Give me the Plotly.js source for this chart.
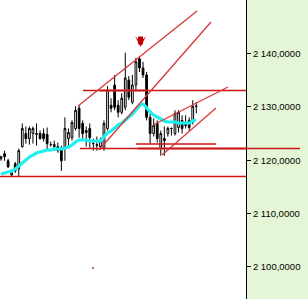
<!DOCTYPE html>
<html>
<head>
<meta charset="utf-8">
<script src="https://cdn.plot.ly/plotly-3.0.1.min.js"></script>
<style>html,body{margin:0;padding:0;background:#fff;}#chart{width:308px;height:299px;}</style>
</head>
<body>
<div id="chart"></div>
<script>
// candle index (bar number)
const barIndex = [0,1,2,3,4,5,6,7,8,9,10,11,12,13,14,15,16,17,18,19,20,21,22,23,24,25,26,27,28,29,30,31,32,33,34,35,36,37,38,39,40,41,42,43,44,45,46,47,48,49,50,51,52,53,54,55];
const openP  = [2120.27,2121.22,2119.89,2117.23,2119.32,2118.37,2122.55,2125.01,2124.06,2125.01,2124.82,2125.01,2125.01,2124.82,2122.93,2122.55,2122.55,2122.17,2122.17,2124.06,2124.25,2125.96,2129.76,2126.91,2125.58,2125.96,2123.12,2122.74,2122.55,2122.17,2125.96,2130.33,2134.12,2130.33,2129.00,2129.95,2135.07,2130.90,2134.12,2139.05,2137.35,2136.02,2128.05,2125.01,2126.91,2122.17,2124.06,2125.01,2125.96,2125.01,2126.15,2127.48,2126.72,2127.48,2127.10,2130.14];
const highP  = [2120.84,2121.79,2120.27,2118.18,2119.70,2122.17,2126.91,2126.34,2126.34,2126.34,2126.91,2125.58,2125.96,2126.15,2123.50,2123.68,2123.31,2122.74,2128.05,2125.96,2127.48,2130.14,2130.33,2127.48,2126.34,2126.91,2124.06,2124.44,2124.25,2127.48,2133.93,2131.65,2136.02,2131.27,2132.60,2140.19,2135.83,2136.02,2139.24,2139.43,2138.49,2136.59,2128.81,2127.86,2127.48,2125.58,2126.34,2126.34,2126.15,2129.38,2129.38,2128.43,2128.43,2128.05,2131.27,2130.90];
const lowP   = [2119.89,2119.89,2118.56,2116.85,2117.61,2117.04,2122.36,2123.12,2122.93,2123.12,2122.74,2123.87,2123.50,2121.79,2122.55,2121.79,2121.41,2117.99,2119.89,2122.74,2123.68,2125.58,2124.25,2124.06,2122.55,2122.36,2121.79,2121.79,2121.98,2121.79,2125.58,2129.00,2129.38,2128.05,2128.62,2129.38,2131.27,2130.52,2133.17,2136.59,2135.45,2127.48,2123.12,2124.44,2123.31,2120.84,2120.84,2124.44,2124.63,2124.63,2125.20,2125.01,2125.96,2125.58,2126.72,2128.81];
const closeP = [2120.65,2120.65,2118.75,2117.61,2117.99,2121.79,2125.96,2124.06,2125.96,2125.96,2125.01,2124.06,2124.06,2123.12,2122.93,2122.93,2121.79,2119.89,2125.96,2125.20,2127.10,2129.38,2125.96,2125.01,2125.20,2124.25,2123.12,2122.93,2123.68,2126.91,2133.17,2129.76,2129.95,2129.00,2131.65,2135.45,2131.84,2134.12,2138.49,2137.35,2136.02,2128.05,2125.01,2126.53,2124.06,2125.01,2123.68,2125.96,2125.96,2128.81,2129.00,2125.96,2126.53,2126.15,2130.14,2130.14];
// moving average
const maP = [2117.40,2117.59,2117.78,2117.97,2118.34,2118.91,2119.47,2120.03,2120.60,2120.97,2121.35,2121.54,2121.73,2121.91,2121.91,2122.10,2122.10,2122.10,2122.29,2122.48,2122.85,2123.42,2123.79,2123.79,2123.79,2123.61,2123.61,2123.61,2123.61,2124.36,2125.11,2125.49,2126.05,2126.61,2126.99,2127.55,2128.12,2128.68,2129.43,2130.19,2130.56,2129.81,2129.06,2128.49,2128.12,2127.74,2127.37,2127.18,2127.18,2127.18,2126.99,2126.99,2126.99,2126.99,2127.37,2127.55];
// trend lines (drawn objects)
const trendStartIdx   = [21.69, 27.6, 42.82, 45.35];
const trendStartPrice = [2130.19, 2121.91, 2126.61, 2120.97];
const trendEndIdx     = [55.21, 59.15, 63.94, 60.56];
const trendEndPrice   = [2148.04, 2145.97, 2133.76, 2129.81];
// horizontal levels
const levelPrice    = [2133.10, 2122.20, 2116.93, 2123.04];
const levelStartIdx = [23.1, 22.25, -0.3, 38.0];
const levelEndIdx   = [69.0, 69.0, 69.0, 60.56];
// signal arrow
const signalIdx = [39.3];
const signalPrice = [2141.28];
// tick labels
const tickValues = [2100, 2110, 2120, 2130, 2140];
const tickLabels = ["2 100,0000", "2 110,0000", "2 120,0000", "2 130,0000", "2 140,0000"];

const RED = '#cc1515';
const traces = [];
traces.push({type:'scatter', mode:'lines', x:[38.5,69], y:[levelPrice[1],levelPrice[1]], line:{color:'rgba(210,80,80,0.55)', width:3}, hoverinfo:'skip'});
traces.push({type:'scatter', mode:'lines', x:[27.8,41], y:[levelPrice[0],levelPrice[0]], line:{color:'rgba(210,80,80,0.55)', width:3}, hoverinfo:'skip'});
traces.push({type:'scatter', mode:'lines', x:barIndex, y:maP, line:{color:'#1ef0f0', width:3.2, shape:'spline'}, hoverinfo:'skip'});
traces.push({type:'candlestick', x:barIndex, open:openP, high:highP, low:lowP, close:closeP,
  increasing:{line:{color:'#000', width:1}, fillcolor:'#fff'},
  decreasing:{line:{color:'#000', width:1}, fillcolor:'#000'},
  whiskerwidth:0, hoverinfo:'skip'});
for (let k=0;k<levelPrice.length;k++){
  traces.push({type:'scatter', mode:'lines', x:[levelStartIdx[k], levelEndIdx[k]], y:[levelPrice[k], levelPrice[k]], line:{color:RED, width:1.5}, hoverinfo:'skip'});
}
for (let k=0;k<trendStartIdx.length;k++){
  traces.push({type:'scatter', mode:'lines', x:[trendStartIdx[k], trendEndIdx[k]], y:[trendStartPrice[k], trendEndPrice[k]], line:{color:'#d83838', width:1.3}, hoverinfo:'skip'});
}
traces.push({type:'scatter', mode:'markers', x:[25.9], y:[2099.73], marker:{color:'#800000', size:1.5, symbol:'square'}, hoverinfo:'skip'});

const layout = {
  width:308, height:299,
  margin:{l:0, r:62, t:0, b:0, pad:0},
  paper_bgcolor:'#e4f6d6', plot_bgcolor:'#ffffff',
  showlegend:false,
  xaxis:{range:[-0.28, 69.0], visible:false, rangeslider:{visible:false}, fixedrange:true},
  yaxis:{side:'right', range:[2093.91, 2150.11], showgrid:false, zeroline:false,
    showline:true, linecolor:'#000', linewidth:1, ticks:'outside', ticklen:4, tickcolor:'#000', tickwidth:1,
    tickvals:tickValues, ticktext:tickLabels, tickfont:{family:'Liberation Sans, Arial, sans-serif', size:9.5, color:'#000'}, fixedrange:true},
  shapes:[{type:'line', xref:'paper', yref:'y', x0:1, x1:300/246, y0:levelPrice[1], y1:levelPrice[1], line:{color:RED, width:1.5}}],
  annotations:[{x:signalIdx[0], y:signalPrice[0], xref:'x', yref:'y', text:'', showarrow:true, arrowhead:3, arrowsize:0.36, arrowwidth:5, arrowcolor:'#c00000', ax:0, ay:-12}]
};
Plotly.newPlot('chart', traces, layout, {staticPlot:true, displayModeBar:false});
</script>
</body>
</html>
